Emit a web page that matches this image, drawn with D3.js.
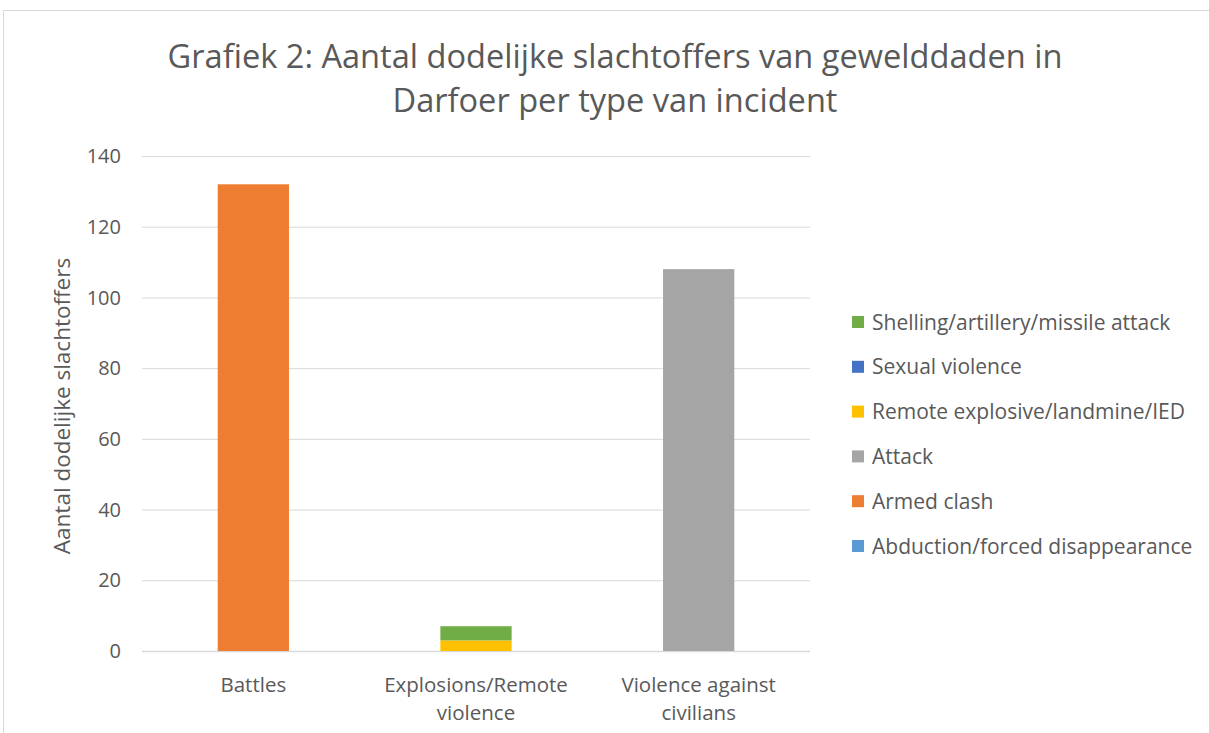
<!DOCTYPE html>
<html><head><meta charset="utf-8">
<script src="https://cdn.jsdelivr.net/npm/d3@7"></script>
<style>body{margin:0;background:#fff}svg{display:block}text{font-family:"Open Sans","Noto Sans",sans-serif}</style>
</head><body>
<svg id="c" width="1209" height="733"></svg>
<script>
const categories = [["Battles"], ["Explosions/Remote", "violence"], ["Violence against", "civilians"]];
const seriesNames = ["Abduction/forced disappearance", "Armed clash", "Attack", "Remote explosive/landmine/IED", "Sexual violence", "Shelling/artillery/missile attack"];
const abduction = [0, 0, 0];
const armedClash = [132, 0, 0];
const attack = [0, 0, 108];
const remoteExplosive = [0, 3, 0];
const sexualViolence = [0, 0, 0];
const shelling = [0, 4, 0];
const yTicks = [0, 20, 40, 60, 80, 100, 120, 140];
const colors = ["#5b9bd5", "#ed7d31", "#a5a5a5", "#ffc000", "#4472c4", "#70ad47"];
const titleLines = ["Grafiek 2: Aantal dodelijke slachtoffers van gewelddaden in", "Darfoer per type van incident"];
const yTitle = "Aantal dodelijke slachtoffers";

const values = [abduction, armedClash, attack, remoteExplosive, sexualViolence, shelling];
const rows = categories.map((c, i) => {
  const r = {cat: i};
  seriesNames.forEach((s, j) => r[s] = values[j][i]);
  return r;
});
const stacked = d3.stack().keys(seriesNames)(rows);

const svg = d3.select("#c");
svg.append("rect").attr("x", 3.5).attr("y", 10.5).attr("width", 1215).attr("height", 740)
  .attr("fill", "none").attr("stroke", "#d9d9d9").attr("stroke-width", 1);

const L = 142, R = 810, T = 156, B = 651;
const x = d3.scaleBand().domain(d3.range(categories.length)).range([L, R]).paddingInner(0.68).paddingOuter(0.34);
const y = d3.scaleLinear().domain([0, 140]).range([B, T]);

svg.append("g").selectAll("line").data(yTicks).join("line")
  .attr("x1", L).attr("x2", R).attr("y1", d => y(d) + 0.5).attr("y2", d => y(d) + 0.5)
  .attr("stroke", "#d9d9d9").attr("stroke-width", d => d === 0 ? 1.5 : 1);

svg.append("g").selectAll("text").data(yTicks).join("text")
  .attr("x", 121).attr("y", d => y(d)).attr("dy", "0.36em").attr("text-anchor", "end")
  .attr("fill", "#595959").attr("font-size", 20).text(d => d);

svg.append("g").selectAll("g").data(stacked).join("g")
  .attr("fill", (d, i) => colors[i])
  .selectAll("rect").data(d => d).join("rect")
  .attr("x", d => x(d.data.cat)).attr("width", x.bandwidth())
  .attr("y", d => y(d[1])).attr("height", d => y(d[0]) - y(d[1]));

const xl = svg.append("g").selectAll("text").data(categories).join("text")
  .attr("text-anchor", "middle").attr("fill", "#595959").attr("font-size", 20.5);
xl.each(function(lines, i) {
  const t = d3.select(this);
  lines.forEach((ln, k) => t.append("tspan").attr("x", x(i) + x.bandwidth() / 2).attr("y", 692 + k * 27.5).text(ln));
});

svg.append("g").selectAll("text").data(titleLines).join("text")
  .attr("x", 615).attr("y", (d, i) => 68 + i * 43.5).attr("text-anchor", "middle")
  .attr("fill", "#595959").attr("font-size", 32.6).text(d => d);

svg.append("text").attr("transform", "translate(70,406) rotate(-90)").attr("text-anchor", "middle")
  .attr("fill", "#595959").attr("font-size", 22.5).text(yTitle);

const legendOrder = seriesNames.map((s, i) => i).reverse();
const lg = svg.append("g").selectAll("g").data(legendOrder).join("g")
  .attr("transform", (d, k) => `translate(852,${322 + k * 44.8})`);
lg.append("rect").attr("x", 0).attr("y", -6).attr("width", 12).attr("height", 12).attr("fill", d => colors[d]);
lg.append("text").attr("x", 20).attr("y", 0).attr("dy", "0.36em").attr("fill", "#595959").attr("font-size", 21)
  .text(d => seriesNames[d]);
</script>
</body></html>
